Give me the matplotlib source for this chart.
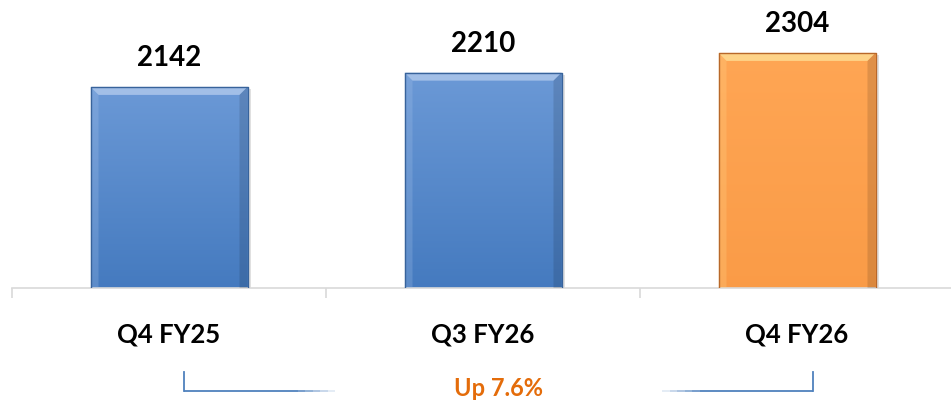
import matplotlib.pyplot as plt
import matplotlib.transforms as mtransforms
import numpy as np

# data
categories = ["Q4 FY25", "Q3 FY26", "Q4 FY26"]
values = [2142, 2210, 2304]
change_label = "Up 7.6%"

plt.rcParams['font.family'] = ['Lato', 'DejaVu Sans']

fig = plt.figure(figsize=(9.51, 4.03), dpi=100)
ax = fig.add_axes([12 / 951, 115 / 403, 942 / 951, 288 / 403])

ymin, ymax = 1184, 2556
ax.set_xlim(-0.5, 2.5)
ax.set_ylim(ymin, ymax)

blue_top, blue_bot = np.array([0.42, 0.60, 0.84]), np.array([0.27, 0.48, 0.75])
orange_top, orange_bot = np.array([1.00, 0.65, 0.33]), np.array([0.98, 0.61, 0.28])
styles = [(blue_top, blue_bot, "#38639b", "#a9c4ea"),
          (blue_top, blue_bot, "#38639b", "#a9c4ea"),
          (orange_top, orange_bot, "#b8682a", "#ffd98f")]

width = 0.5
bars = ax.bar(range(len(values)), [v - ymin for v in values], bottom=ymin,
              width=width, color="none", edgecolor="none", zorder=2)

# units per pixel for bevel sizes
ux = 3.0 / 942
uy = (ymax - ymin) / 288
bev = 8

for bar, (ctop, cbot, edge, hi) in zip(bars, styles):
    x0, x1 = bar.get_x(), bar.get_x() + bar.get_width()
    y0, y1 = ymin, bar.get_y() + bar.get_height()
    # shadow
    ax.fill([x0 + 2 * ux, x1 + 3 * ux, x1 + 3 * ux, x0 + 2 * ux],
            [y0, y0, y1 - 2 * uy, y1 - 2 * uy], color="#000000", alpha=0.12, zorder=1, lw=0)
    # vertical gradient body
    grad = np.linspace(0, 1, 100)[:, None, None]
    img = ctop[None, None, :] * (1 - grad) + cbot[None, None, :] * grad
    im = ax.imshow(img, extent=[x0, x1, y0, y1], origin="upper", aspect="auto", zorder=2)
    im.set_clip_path(bar)
    # top bevel
    ax.fill([x0, x1, x1 - bev * ux, x0 + bev * ux], [y1, y1, y1 - bev * uy, y1 - bev * uy],
            color=hi, alpha=0.9, zorder=3, lw=0)
    # side bevels
    ax.fill([x0, x0 + bev * ux, x0 + bev * ux, x0], [y1, y1 - bev * uy, y0, y0],
            color=hi, alpha=0.25, zorder=3, lw=0)
    ax.fill([x1, x1 - bev * ux, x1 - bev * ux, x1], [y1, y1 - bev * uy, y0, y0],
            color="#000000", alpha=0.12, zorder=3, lw=0)
    ax.plot([x0, x0, x1, x1], [y0, y1, y1, y0], color=edge, lw=1.0, zorder=4)
    ax.text(bar.get_x() + bar.get_width() / 2, y1 + 16 * uy, str(int(round(bar.get_height() + ymin))),
            ha="center", va="bottom", fontsize=20, fontweight="bold", color="black")

ax.set_xticks(range(len(categories)))
ax.set_xticklabels(categories, fontsize=18.5, fontweight="bold")
ax.tick_params(axis="x", which="major", length=0, pad=25)
ax.set_xticks([-0.5, 0.5, 1.5, 2.5], minor=True)
ax.tick_params(axis="x", which="minor", length=7, width=1.2, color="#d9d9d9", direction="out")
ax.set_yticks([])
for s in ["top", "right", "left"]:
    ax.spines[s].set_visible(False)
ax.spines["bottom"].set_color("#d9d9d9")
ax.spines["bottom"].set_linewidth(1.2)

# bracket under the chart
tr = mtransforms.blended_transform_factory(ax.transData, fig.transFigure)
yt, yb = 1 - 372 / 403, 1 - 391 / 403
bx0, bx1 = 0.048, 2.05
bc = "#4f81bd"
ax.plot([bx0, bx0], [yt, yb], color=bc, lw=1.3, transform=tr, clip_on=False)
ax.plot([bx1, bx1], [yt, yb], color=bc, lw=1.3, transform=tr, clip_on=False)
n = 20
left_seg = np.linspace(bx0, 0.53, n + 1)
right_seg = np.linspace(bx1, 1.57, n + 1)
for i in range(n):
    a = 1.0 if i < n * 0.7 else 1.0 - (i - n * 0.7) / (n * 0.3)
    ax.plot(left_seg[i:i + 2], [yb, yb], color=bc, lw=1.3, alpha=max(a, 0.1),
            transform=tr, clip_on=False, solid_capstyle="butt")
    ax.plot(right_seg[i:i + 2], [yb, yb], color=bc, lw=1.3, alpha=max(a, 0.1),
            transform=tr, clip_on=False, solid_capstyle="butt")
ax.text(1.05, 1 - 388 / 403, change_label, transform=tr, ha="center", va="center",
        fontsize=17, fontweight="bold", color="#e46c0a")

fig.savefig("out.png", dpi=100)
